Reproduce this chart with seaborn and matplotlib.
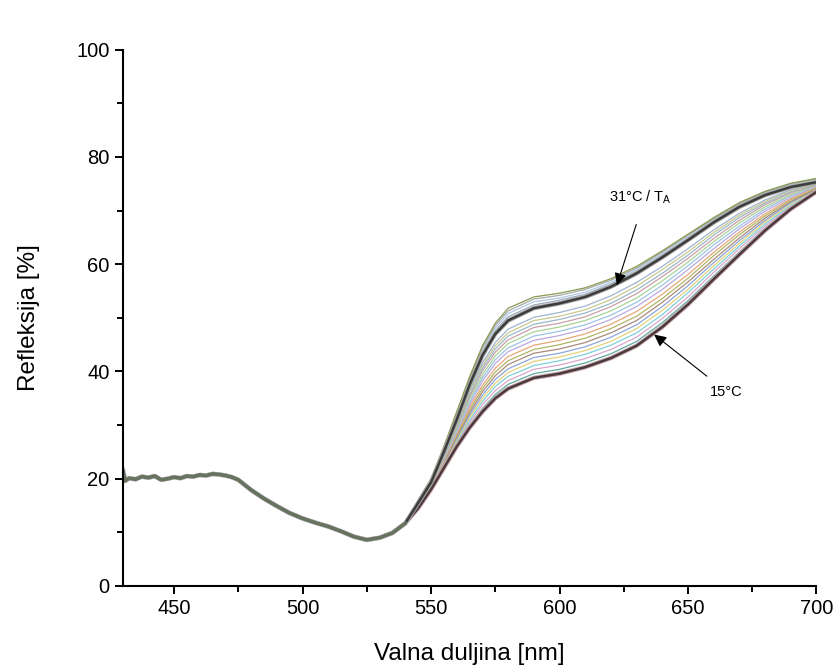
import matplotlib
matplotlib.use("Agg")
import matplotlib.pyplot as plt
from matplotlib.ticker import MultipleLocator
import seaborn as sns

# shared part of all spectra (430-540 nm)
wl_common = [430, 431, 432.5, 435, 437.5, 440, 442.5, 445, 447.5, 450, 452.5, 455, 457.5,
             460, 462.5, 465, 467.5, 470, 472.5, 475, 480, 485, 490, 495, 500, 505, 510,
             515, 520, 525, 530, 535, 540]
r_common = [21.8, 19.6, 20.1, 19.9, 20.4, 20.2, 20.5, 19.8, 20.0, 20.3, 20.1, 20.5, 20.4,
            20.7, 20.6, 20.9, 20.8, 20.6, 20.3, 19.8, 17.9, 16.3, 14.9, 13.6, 12.6, 11.8, 11.1,
            10.2, 9.2, 8.6, 9.0, 9.9, 11.7]

# temperature dependent part (545-700 nm)
wl_rise = [545, 550, 555, 560, 565, 570, 575, 580, 590, 600, 610, 620, 630, 640, 650, 660,
           670, 680, 690, 700]

temps = list(range(15, 36))
t15 = [14.5, 18.0, 22.0, 26.0, 29.5, 32.5, 35.0, 36.8, 38.8, 39.6, 40.8, 42.5, 44.8, 48.3, 52.5, 57.2, 61.8, 66.3, 70.3, 73.5]
t16 = [14.6, 18.1, 22.2, 26.3, 30.0, 33.1, 35.7, 37.6, 39.6, 40.4, 41.6, 43.3, 45.6, 49.1, 53.2, 57.8, 62.3, 66.7, 70.6, 73.6]
t17 = [14.6, 18.2, 22.4, 26.6, 30.5, 33.8, 36.4, 38.3, 40.4, 41.2, 42.4, 44.1, 46.4, 49.9, 53.9, 58.5, 62.9, 67.1, 70.8, 73.7]
t18 = [14.7, 18.2, 22.5, 26.9, 30.9, 34.4, 37.2, 39.1, 41.1, 42.0, 43.2, 44.9, 47.2, 50.6, 54.7, 59.1, 63.4, 67.5, 71.0, 73.8]
t19 = [14.7, 18.3, 22.7, 27.2, 31.4, 35.0, 37.8, 39.8, 41.9, 42.7, 43.9, 45.6, 48.0, 51.4, 55.3, 59.7, 63.9, 67.9, 71.3, 73.9]
t20 = [14.8, 18.4, 22.9, 27.5, 31.8, 35.6, 38.5, 40.5, 42.6, 43.4, 44.6, 46.4, 48.7, 52.1, 56.0, 60.3, 64.4, 68.2, 71.5, 74.0]
t21 = [14.9, 18.5, 23.1, 27.8, 32.3, 36.2, 39.2, 41.3, 43.4, 44.2, 45.4, 47.2, 49.5, 52.9, 56.7, 60.9, 64.9, 68.6, 71.7, 74.1]
t22 = [14.9, 18.5, 23.2, 28.1, 32.8, 36.8, 39.9, 42.0, 44.1, 45.0, 46.2, 48.0, 50.3, 53.6, 57.4, 61.6, 65.5, 69.0, 72.0, 74.2]
t23 = [15.0, 18.6, 23.4, 28.4, 33.3, 37.4, 40.6, 42.8, 44.9, 45.8, 47.0, 48.8, 51.2, 54.4, 58.1, 62.2, 66.0, 69.4, 72.2, 74.4]
t24 = [15.0, 18.7, 23.6, 28.7, 33.8, 38.2, 41.5, 43.7, 45.8, 46.7, 47.9, 49.7, 52.1, 55.3, 59.0, 62.9, 66.6, 69.9, 72.5, 74.5]
t25 = [15.1, 18.8, 23.8, 29.0, 34.3, 38.8, 42.2, 44.4, 46.6, 47.5, 48.7, 50.5, 52.9, 56.1, 59.7, 63.6, 67.1, 70.3, 72.8, 74.6]
t26 = [15.2, 18.9, 24.0, 29.3, 34.8, 39.4, 42.9, 45.2, 47.4, 48.3, 49.5, 51.3, 53.7, 56.9, 60.4, 64.2, 67.7, 70.7, 73.0, 74.7]
t27 = [15.2, 18.9, 24.2, 29.6, 35.3, 40.1, 43.6, 45.9, 48.2, 49.0, 50.2, 52.1, 54.5, 57.7, 61.1, 64.8, 68.2, 71.1, 73.3, 74.8]
t28 = [15.3, 19.0, 24.3, 29.9, 35.7, 40.6, 44.2, 46.6, 48.8, 49.7, 50.9, 52.7, 55.2, 58.3, 61.7, 65.4, 68.7, 71.4, 73.5, 74.9]
t29 = [15.3, 19.1, 24.5, 30.1, 36.1, 41.1, 44.8, 47.2, 49.5, 50.3, 51.5, 53.4, 55.9, 59.0, 62.3, 65.9, 69.1, 71.7, 73.7, 75.0]
t30 = [15.4, 19.1, 24.6, 30.4, 36.5, 41.6, 45.4, 47.9, 50.1, 51.0, 52.2, 54.1, 56.6, 59.6, 62.9, 66.4, 69.5, 72.0, 73.9, 75.1]
t31 = [15.5, 19.3, 25.0, 31.0, 37.5, 43.0, 47.0, 49.5, 51.8, 52.7, 53.9, 55.8, 58.3, 61.3, 64.5, 67.8, 70.7, 72.9, 74.4, 75.3]
t32 = [15.7, 19.5, 25.3, 31.5, 38.0, 43.5, 47.6, 50.2, 52.4, 53.3, 54.4, 56.3, 58.7, 61.7, 64.8, 68.1, 70.9, 73.1, 74.6, 75.5]
t33 = [15.8, 19.7, 25.6, 31.8, 38.3, 44.0, 48.1, 50.8, 53.0, 53.7, 54.8, 56.6, 59.0, 62.0, 65.1, 68.3, 71.1, 73.3, 74.8, 75.7]
t34 = [15.9, 19.9, 25.8, 32.2, 38.7, 44.4, 48.6, 51.3, 53.5, 54.2, 55.3, 57.0, 59.3, 62.3, 65.4, 68.5, 71.3, 73.5, 75.0, 75.9]
t35 = [16.0, 20.0, 26.0, 32.5, 39.0, 44.8, 49.0, 51.8, 53.9, 54.6, 55.6, 57.3, 59.6, 62.5, 65.6, 68.7, 71.5, 73.6, 75.1, 76.0]
curves = [t15, t16, t17, t18, t19, t20, t21, t22, t23, t24, t25, t26, t27, t28, t29, t30,
          t31, t32, t33, t34, t35]

line_colors = ["#4a3a3c", "#5fa8a0", "#d8a6cc", "#7fd0d8", "#e2d27a", "#8ea4d8", "#a88a7a",
               "#b2b466", "#e6a878", "#baa8e0", "#9cc4e4", "#a8d494", "#c8a0a8", "#9ab8c8",
               "#c8c890", "#a0b4d0", "#3c3c3c", "#9aaac0", "#b0c8e0", "#a4a8a8", "#8a9a50"]

sns.set_style("ticks")
plt.rcParams["font.family"] = ["Liberation Sans", "DejaVu Sans"]
plt.rcParams["mathtext.default"] = "regular"
plt.rcParams["text.color"] = "black"
plt.rcParams["axes.labelcolor"] = "black"
plt.rcParams["xtick.color"] = "black"
plt.rcParams["ytick.color"] = "black"
plt.rcParams["axes.edgecolor"] = "black"

fig = plt.figure(figsize=(8.4, 6.72), dpi=100)
ax = fig.add_axes([0.146, 0.128, 0.826, 0.798])

for t, vals, c in zip(temps, curves, line_colors):
    if t in (15, 31):
        continue
    sns.lineplot(x=wl_common + wl_rise, y=r_common + vals, ax=ax, color=c, lw=0.9)

# highlighted curves 15 and 31 C
for t, vals, c in zip(temps, curves, line_colors):
    if t in (15, 31):
        sns.lineplot(x=wl_common + wl_rise, y=r_common + vals, ax=ax, color="#c9a7ae" if t == 15 else "#a8a8a8", lw=3.2)
        sns.lineplot(x=wl_common + wl_rise, y=r_common + vals, ax=ax, color=c, lw=1.8)

sns.lineplot(x=wl_common, y=r_common, ax=ax, color="#66735e", lw=2.4)

ax.annotate("", xy=(622, 55.6), xytext=(630.2, 67.9),
            arrowprops=dict(arrowstyle="-|>", color="black", lw=0.8, mutation_scale=18))
ax.text(631.4, 72.4, "31°C / T$_A$", ha="center", va="center", fontsize=10.5)
ax.annotate("", xy=(636, 47.2), xytext=(658.2, 38.8),
            arrowprops=dict(arrowstyle="-|>", color="black", lw=0.8, mutation_scale=18))
ax.text(665, 36.2, "15°C", ha="center", va="center", fontsize=10.5)

ax.set_xlim(430, 700)
ax.set_ylim(0, 100)
ax.xaxis.set_major_locator(MultipleLocator(50))
ax.xaxis.set_minor_locator(MultipleLocator(25))
ax.yaxis.set_major_locator(MultipleLocator(20))
ax.yaxis.set_minor_locator(MultipleLocator(10))
ax.tick_params(which="major", length=6, width=1.4, labelsize=14.5, direction="out")
ax.tick_params(which="minor", length=4, width=1.4, direction="out")
for s in ["left", "bottom"]:
    ax.spines[s].set_linewidth(1.5)
sns.despine(ax=ax)

ax.set_xlabel("Valna duljina [nm]", fontsize=17.5, labelpad=18)
ax.set_ylabel("Refleksija [%]", fontsize=17.5, labelpad=26)

plt.savefig("out.png", dpi=100)
plt.close()
